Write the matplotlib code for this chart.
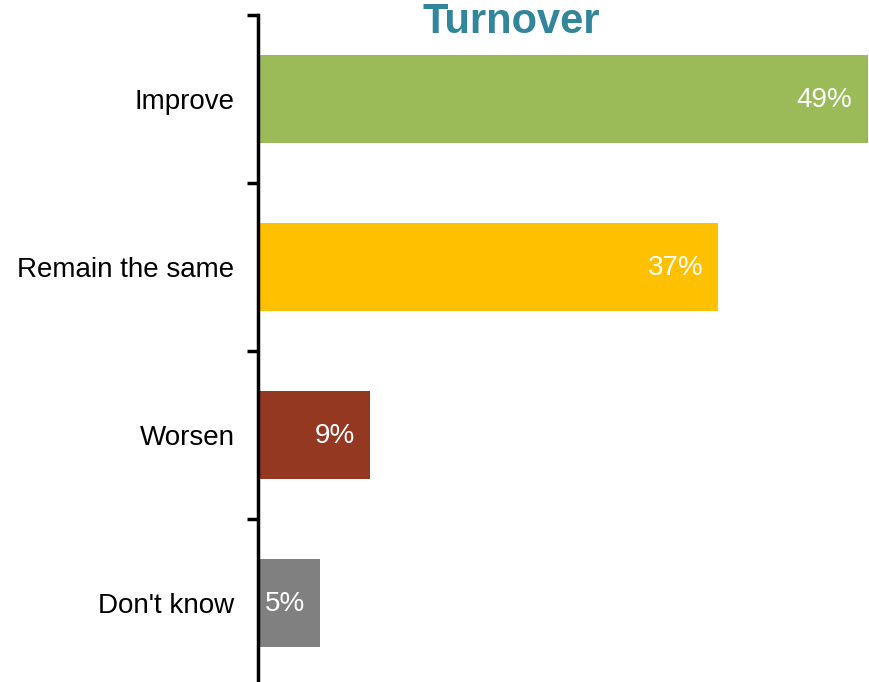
import matplotlib
matplotlib.use("Agg")
import matplotlib.pyplot as plt

categories = ["Improve", "Remain the same", "Worsen", "Don't know"]
values = [49, 37, 9, 5]
bar_colors = ["#9BBB59", "#FFC000", "#953822", "#808080"]
title = "Turnover"

plt.rcParams["font.family"] = ["Liberation Sans", "DejaVu Sans"]

fig = plt.figure(figsize=(8.70, 6.82), dpi=100)
ax = fig.add_axes([258 / 870, -5 / 682, 612 / 870, 672 / 682])

pos = list(range(len(categories)))
ax.barh(pos, values, height=0.525, color=bar_colors, zorder=2)

ax.set_xlim(0, 49.2)
ax.set_ylim(len(categories) - 0.5, -0.5)

for y, v in zip(pos, values):
    ax.annotate(f"{v}%", xy=(v, y), xytext=(-15, -1), textcoords="offset pixels",
                ha="right", va="center", color="white", fontsize=20, zorder=3)

# tick marks sit on the category boundaries, labels at the centres
ax.set_yticks([p - 0.5 for p in pos] + [len(categories) - 0.5])
ax.set_yticklabels([])
ax.set_yticks(pos, minor=True)
ax.set_yticklabels(categories, minor=True, fontsize=20)
ax.tick_params(axis="y", which="major", length=8, width=2.5, direction="out", color="black")
ax.tick_params(axis="y", which="minor", length=0, pad=17)
ax.set_xticks([])

for side in ["top", "right", "bottom"]:
    ax.spines[side].set_visible(False)
ax.spines["left"].set_linewidth(2.5)
ax.spines["left"].set_color("black")

fig.text(511 / 870, 1 - 33 / 682, title, ha="center", va="baseline",
         fontsize=30, fontweight="bold", color="#31869C")

fig.savefig("out.png", dpi=100)
